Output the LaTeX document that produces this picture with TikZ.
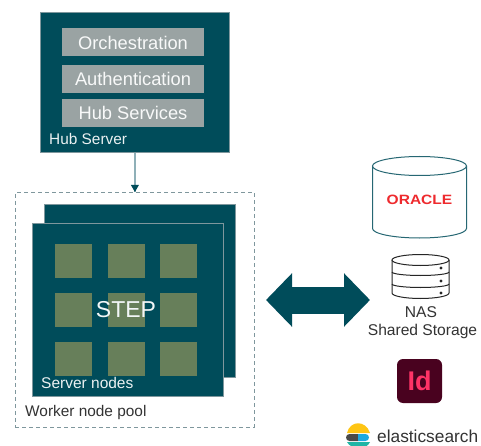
\documentclass[tikz,border=0pt]{standalone}
\usepackage{fontspec}
\setmainfont{Liberation Sans}
\usetikzlibrary{arrows.meta}
\definecolor{deepteal}{HTML}{004C5A}
\definecolor{edgegrey}{HTML}{7F979D}
\definecolor{boxgrey}{HTML}{9AA3A3}
\definecolor{cellgreen}{HTML}{677F5A}
\definecolor{linkblue}{HTML}{8FB0B8}
\definecolor{oraclered}{HTML}{EE2A2E}
\definecolor{idback}{HTML}{49021F}
\definecolor{idpink}{HTML}{FF3366}
\definecolor{elyellow}{HTML}{FEC514}
\definecolor{elgrey}{HTML}{4A4A4A}
\definecolor{elblue}{HTML}{1BA9E0}
\definecolor{elteal}{HTML}{1FB5A5}
\tikzset{
  fs/.style={font=\fontsize{#1}{#1}\selectfont},
  panel/.style={draw=edgegrey,line width=0.8pt,fill=deepteal,inner sep=0pt,anchor=north west},
  service/.style={fill=boxgrey,text=white!93!boxgrey,inner sep=0pt,minimum width=142pt,fs=18.3},
  cell/.style={fill=cellgreen,inner sep=0pt,minimum width=37pt,minimum height=34pt,anchor=north west},
  caption/.style={inner sep=0pt,anchor=west,text=white!92!deepteal,fs=15.4},
  darktext/.style={inner sep=0pt,text=black!80,fs=15.6},
  dbline/.style={draw=deepteal!85!white,line width=1pt,fill=white},
  naslinedraw/.style={draw=black!85,line width=1pt,fill=white},
}
\begin{document}
\begin{tikzpicture}[x=1pt,y=-1pt]
\useasboundingbox (0,0) rectangle (481,446);
\fill[white] (0,0) rectangle (481,446);
% Hub
\node[panel,minimum width=189pt,minimum height=140pt] (hub) at (40,12) {};
\node[service,minimum height=28pt] (orch) at (133,42.5) {Orchestration};
\node[service,minimum height=27.5pt] (auth) at (133,78.8) {Authentication};
\node[service,minimum height=28pt] (hubs) at (133,113.3) {Hub Services};
\node[caption] (hublabel) at (49,138.5) {Hub Server};
% Pool
\node[draw=edgegrey,dash pattern=on 4pt off 3pt,line width=0.8pt,inner sep=0pt,anchor=north west,minimum width=239pt,minimum height=234.5pt] (pool) at (15,192) {};
\draw[linkblue,line width=1.2pt] (hub.south) -- (pool.north);
\draw[draw=none,fill=deepteal] (pool.north) -- ++(-4,-7) -- ++(8,0) -- cycle;
\node[panel,minimum width=191pt,minimum height=173pt] (back) at (44,204) {};
\node[panel,minimum width=191pt,minimum height=173pt] (front) at (32,223) {};
\foreach \x/\cx in {a/55,b/108,c/160}
  \foreach \y/\cy in {1/244,2/293,3/342}
    \node[cell] (cell\x\y) at (\cx,\cy) {};
\node[inner sep=0pt,text=white!95!deepteal,fs=23] (steplabel) at (126,310) {STEP};
\node[caption,fs=15.5] (serverlabel) at (41,382.5) {Server nodes};
\node[inner sep=0pt,anchor=west,text=black!80,fs=15.4] (poollabel) at (25,412.5) {Worker node pool};
% Double arrow
\coordinate (dl) at (266,300);
\coordinate (dr) at (370,300);
\draw[deepteal,line width=27pt,{Triangle[length=26pt,width=52pt]}-{Triangle[length=26pt,width=52pt]}] (dl) -- (dr);
% Oracle cylinder
\draw[dbline] (372.5,166) -- (372.5,228.5) arc[start angle=180,end angle=0,x radius=47,y radius=9.5] -- (466.5,166);
\draw[dbline] (419.5,166) ellipse[x radius=47,y radius=9.5];
\node[inner sep=0pt,text=oraclered,xscale=1.15,font=\bfseries\fontsize{13.5}{13.5}\selectfont] (oracle) at (419.5,200) {ORACLE};
% NAS icon
\draw[naslinedraw] (392,260) -- (392,293) arc[start angle=180,end angle=0,x radius=28.5,y radius=5.5] -- (449,260);
\draw[naslinedraw] (420.5,260) ellipse[x radius=28.5,y radius=5.5];
\draw[black!85,line width=1pt] (392,272) arc[start angle=180,end angle=0,x radius=28.5,y radius=3.5];
\draw[black!85,line width=1pt] (392,284) arc[start angle=180,end angle=0,x radius=28.5,y radius=3.5];
\fill[black!85] (441,268) circle[radius=1.7] (441,281) circle[radius=1.7] (441,293) circle[radius=1.7];
\node[darktext] (naslabel) at (421,312) {NAS};
\node[darktext] (naslabelb) at (422.5,331) {Shared Storage};
% InDesign
\node[fill=idback,rounded corners=6pt,minimum width=45pt,minimum height=44pt,inner sep=0pt,text=idpink,font=\bfseries\fontsize{27}{27}\selectfont] (indesign) at (419.5,381) {Id};
% Elasticsearch
\begin{scope}
\clip (340,420) rectangle (481,446);
\fill[elyellow] (347,433) .. controls (350,420) and (366,420) .. (370,433) -- cycle;
\fill[elgrey] (349.5,434) -- (358,434) -- (358,441) -- (349.5,441) arc[start angle=90,end angle=270,radius=3.5] -- cycle;
\fill[elblue] (358,434) -- (365.5,434) arc[start angle=270,end angle=450,radius=3.5] -- (358,441) -- cycle;
\fill[elteal] (347,442) -- (370,442) .. controls (367,450) and (351,450) .. (347,442) -- cycle;
\end{scope}
\node[inner sep=0pt,anchor=west,text=black!80,fs=17.3] (elastic) at (377,436) {elasticsearch};
\end{tikzpicture}
\end{document}
